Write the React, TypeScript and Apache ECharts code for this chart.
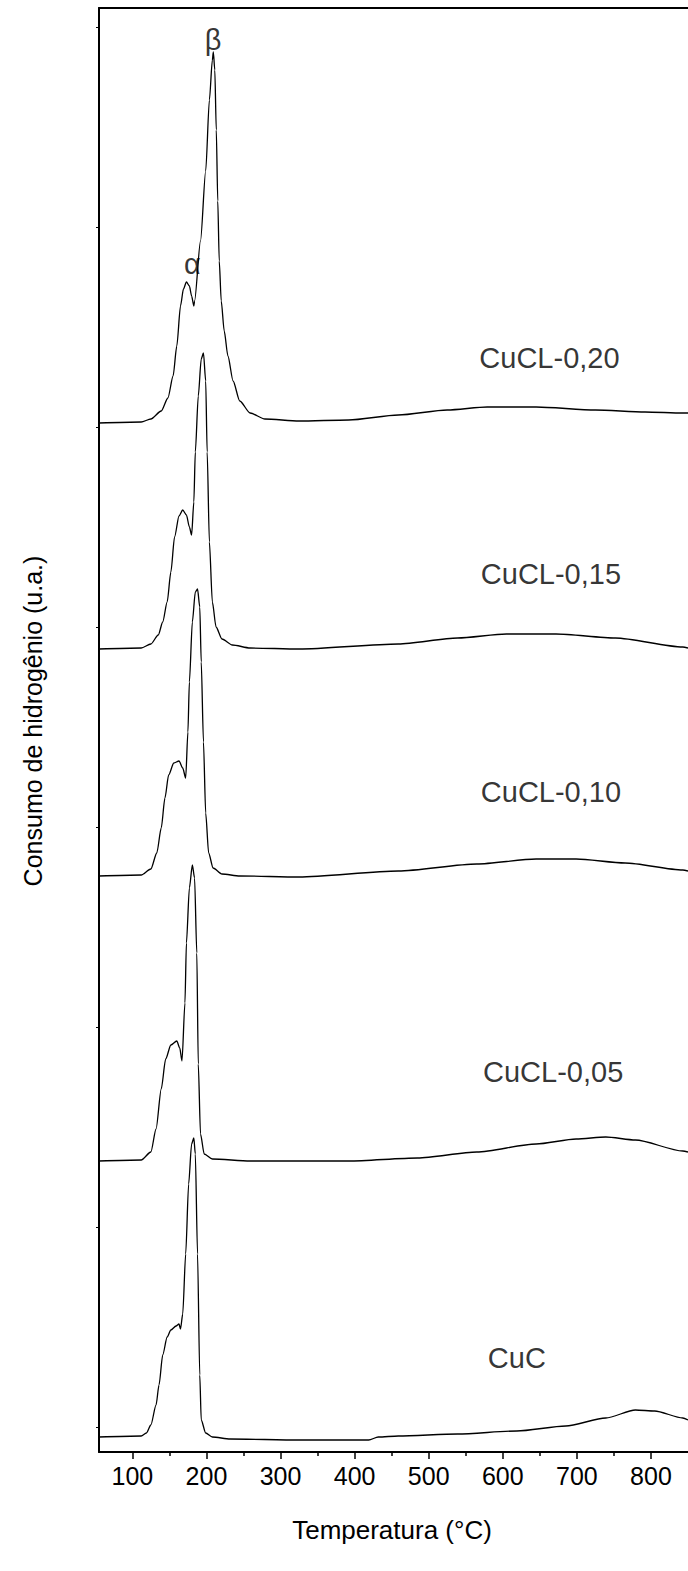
import React, { useEffect, useRef } from "react";
import * as echarts from "echarts";

// H2-TPR profiles: temperature (°C) vs hydrogen consumption (a.u., curves stacked with offsets)
const CUCL_020: [number, number][] = [
  [55, 1029], [112, 1030], [125, 1033], [139, 1041], [148, 1054], [155, 1076],
  [160, 1106], [165, 1146], [169, 1163], [173, 1170], [177, 1166], [180, 1156],
  [183, 1146], [184, 1151], [192, 1211], [199, 1281], [204, 1352], [208, 1392],
  [209.3, 1400], [211.3, 1382], [213.3, 1322], [215.3, 1251], [217.3, 1191],
  [220, 1151], [224, 1121], [229, 1096], [236, 1071], [245, 1051], [259, 1039],
  [279, 1033], [325, 1031], [392, 1032], [459, 1037], [525, 1042], [579, 1045],
  [645, 1045], [725, 1042], [792, 1040], [843, 1039], [850, 1039],
];

const CUCL_015: [number, number][] = [
  [55, 803], [112, 804], [125, 808], [135, 817], [141, 830], [147, 850],
  [152, 880], [157, 915], [163, 936], [168, 942], [173, 937], [177, 925],
  [180, 917], [183, 950], [185, 1000], [189, 1056], [193, 1093], [196, 1099],
  [199, 1071], [201, 1000], [204, 910], [208, 850], [213, 825], [221, 813],
  [235, 807], [259, 804], [325, 803], [459, 808], [539, 814], [605, 818],
  [672, 818], [752, 814], [843, 805], [850, 804],
];

const CUCL_010: [number, number][] = [
  [55, 576], [112, 577], [125, 583], [133, 599], [139, 624], [144, 654],
  [149, 677], [156, 689], [163, 691], [168, 684], [172, 674], [175, 720],
  [177, 770], [181, 830], [185, 860], [188, 863], [191, 845], [193, 790],
  [196, 710], [199, 639], [203, 599], [209, 584], [221, 578], [245, 576],
  [325, 575], [459, 581], [565, 588], [645, 593], [699, 593], [765, 589],
  [843, 582], [850, 581],
];

const CUCL_005: [number, number][] = [
  [55, 291], [112, 292], [125, 300], [132, 323], [139, 363], [145, 393],
  [152, 407], [160, 411], [164, 404], [167, 391], [171, 449], [173, 509],
  [177, 564], [181, 587], [184, 574], [187, 499], [189, 388], [192, 318],
  [197, 298], [208, 293], [259, 291], [392, 291], [485, 294], [565, 300],
  [645, 308], [699, 313], [739, 315], [779, 312], [843, 301], [850, 300],
];

const CUC: [number, number][] = [
  [55, 15], [112, 16], [119, 19], [125, 27], [132, 47], [136, 67],
  [141, 97], [147, 115], [152, 122], [159, 126], [163, 128], [165, 123],
  [168, 138], [172, 198], [176, 268], [180, 308], [183, 314], [185, 298],
  [188, 198], [191, 77], [193, 32], [199, 19], [208, 15], [232, 13],
  [325, 12], [419, 12], [432, 15], [459, 16], [539, 18], [619, 21],
  [685, 26], [739, 34], [779, 42], [805, 41], [843, 34], [850, 32],
];

const SERIES = [
  { name: "CuCL-0,20", data: CUCL_020 },
  { name: "CuCL-0,15", data: CUCL_015 },
  { name: "CuCL-0,10", data: CUCL_010 },
  { name: "CuCL-0,05", data: CUCL_005 },
  { name: "CuC", data: CUC },
];

// Sample names and peak markers, anchored in data coordinates
const CURVE_LABELS: { text: string; t: number; v: number }[] = [
  { text: "CuCL-0,20", t: 663, v: 1094 },
  { text: "CuCL-0,15", t: 665, v: 878 },
  { text: "CuCL-0,10", t: 665, v: 660 },
  { text: "CuCL-0,05", t: 668, v: 380 },
  { text: "CuC", t: 619, v: 94 },
];
const PEAK_LABELS: { text: string; t: number; v: number }[] = [
  { text: "α", t: 181, v: 1188 },
  { text: "β", t: 209, v: 1412 },
];

const X_MAJOR = [100, 200, 300, 400, 500, 600, 700, 800];
const X_MINOR = [150, 250, 350, 450, 550, 650, 750];
const Y_TICKS = [25, 225, 425, 625, 825, 1025, 1225, 1425];

const X_TITLE = "Temperatura (°C)";
const Y_TITLE = "Consumo de hidrogênio (u.a.)";

const FONT = "'Liberation Sans', Arial, Helvetica, sans-serif";

export default function App() {
  const ref = useRef<HTMLDivElement>(null);

  useEffect(() => {
    if (!ref.current) return;
    const chart = echarts.init(ref.current, undefined, { renderer: "svg" });
    const rect = { left: 99, top: 8, right: -7.5, bottom: 119 };
    const axisColor = "#000";
    const yMax = 1444;

    chart.setOption({
      animation: false,
      backgroundColor: "#fff",
      grid: [{ ...rect }, { ...rect }],
      xAxis: [
        {
          type: "value",
          gridIndex: 0,
          position: "bottom",
          min: 55,
          max: 850,
          axisLine: { show: true, onZero: false, lineStyle: { color: axisColor, width: 2 } },
          axisTick: {
            show: true,
            inside: false,
            length: 7,
            customValues: X_MAJOR,
            lineStyle: { color: axisColor, width: 1.5 },
          },
          axisLabel: {
            show: true,
            customValues: X_MAJOR,
            margin: 11,
            color: "#000",
            fontSize: 25,
            fontFamily: FONT,
          },
          splitLine: { show: false },
        },
        {
          type: "value",
          gridIndex: 0,
          position: "top",
          min: 55,
          max: 850,
          axisLine: { show: true, onZero: false, lineStyle: { color: axisColor, width: 2 } },
          axisTick: { show: false },
          axisLabel: { show: false },
          splitLine: { show: false },
        },
        {
          type: "value",
          gridIndex: 1,
          position: "bottom",
          min: 55,
          max: 850,
          axisLine: { show: false, onZero: false },
          axisTick: {
            show: true,
            inside: false,
            length: 4,
            customValues: X_MINOR,
            lineStyle: { color: axisColor, width: 1.5 },
          },
          axisLabel: { show: false },
          splitLine: { show: false },
        },
      ],
      yAxis: [
        {
          type: "value",
          gridIndex: 0,
          min: 0,
          max: yMax,
          axisLine: { show: true, onZero: false, lineStyle: { color: axisColor, width: 2 } },
          axisTick: {
            show: true,
            inside: false,
            length: 3,
            customValues: Y_TICKS,
            lineStyle: { color: axisColor, width: 1 },
          },
          axisLabel: { show: false },
          splitLine: { show: false },
        },
        {
          type: "value",
          gridIndex: 1,
          min: 0,
          max: yMax,
          show: false,
          splitLine: { show: false },
        },
      ],
      series: [
        ...SERIES.map((s) => ({
          type: "line",
          name: s.name,
          xAxisIndex: 0,
          yAxisIndex: 0,
          data: s.data,
          showSymbol: false,
          symbol: "none",
          smooth: 0.25,
          smoothMonotone: "x",
          silent: true,
          lineStyle: { color: "#000", width: 1.3 },
        })),
        {
          type: "scatter",
          xAxisIndex: 0,
          yAxisIndex: 0,
          silent: true,
          symbolSize: 1,
          itemStyle: { color: "rgba(0,0,0,0)" },
          data: [...CURVE_LABELS, ...PEAK_LABELS].map((l) => ({
            name: l.text,
            value: [l.t, l.v],
          })),
          label: {
            show: true,
            position: "inside",
            formatter: "{b}",
            color: "#000",
            fontSize: 29,
            fontFamily: FONT,
          },
        },
      ],
      graphic: [
        {
          type: "text",
          x: 392,
          y: 1530,
          style: {
            text: X_TITLE,
            fill: "#000",
            font: `26px ${FONT}`,
            textAlign: "center",
            textVerticalAlign: "middle",
          },
        },
        {
          type: "text",
          x: 33,
          y: 721,
          rotation: Math.PI / 2,
          style: {
            text: Y_TITLE,
            fill: "#000",
            font: `25px ${FONT}`,
            textAlign: "center",
            textVerticalAlign: "middle",
          },
        },
      ],
    });

    return () => chart.dispose();
  }, []);

  return (
    <div
      ref={ref}
      style={{ position: "absolute", left: 0, top: 0, width: 688, height: 1571, background: "#fff" }}
    />
  );
}
